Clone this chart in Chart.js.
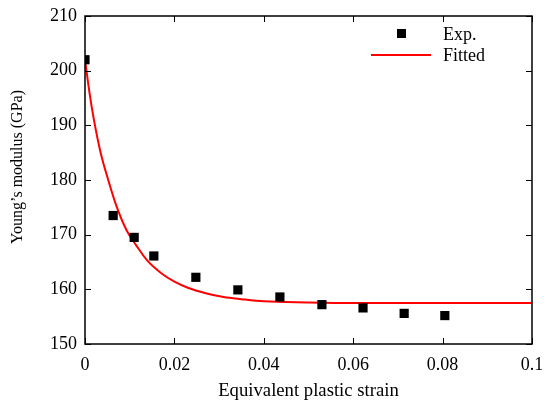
<!DOCTYPE html>
<html>
<head>
<meta charset="utf-8">
<script src="https://cdn.jsdelivr.net/npm/chart.js@4/dist/chart.umd.min.js"></script>
<style>
  html, body { margin: 0; padding: 0; background: #fff; }
  #wrap { width: 544px; height: 405px; }
</style>
</head>
<body>
<div id="wrap"><canvas id="chart" width="544" height="405"></canvas></div>
<script>
// --- Data ---
const expStrain  = [0, 0.0063, 0.0110, 0.0154, 0.0248, 0.0342, 0.0436, 0.0530, 0.0622, 0.0714, 0.0805];
const expModulus = [202.0, 173.5, 169.5, 166.1, 162.2, 159.9, 158.6, 157.2, 156.6, 155.6, 155.2];

const fitStrain  = [0, 0.001, 0.002, 0.0035, 0.0052, 0.007, 0.0093, 0.0115, 0.014, 0.017, 0.02,
                    0.023, 0.027, 0.031, 0.035, 0.04, 0.05, 0.06, 0.08, 0.1];
const fitModulus = [202, 196, 191, 185, 180, 175.3, 170.8, 168, 165.2, 163, 161.4,
                    160.3, 159.3, 158.6, 158.2, 157.8, 157.6, 157.5, 157.5, 157.5];

const xTicks = [0, 0.02, 0.04, 0.06, 0.08, 0.1];
const yTicks = [150, 160, 170, 180, 190, 200, 210];

const yTitle = 'Young\u2019s modulus (GPa)';

const FONT = "'Liberation Serif', 'Times New Roman', serif";

// --- Frame, inward ticks, y title and legend ---
const framePlugin = {
    id: 'frame',
    afterDraw(chart) {
        const ctx = chart.ctx;
        const a = chart.chartArea;
        const xs = chart.scales.x, ys = chart.scales.y;
        ctx.save();
        ctx.strokeStyle = '#000';
        ctx.lineWidth = 1.5;
        ctx.strokeRect(a.left, a.top, a.right - a.left, a.bottom - a.top);

        ctx.lineWidth = 1;
        ctx.beginPath();
        xTicks.forEach(v => {
            const px = Math.round(xs.getPixelForValue(v)) + 0.5;
            ctx.moveTo(px, a.bottom); ctx.lineTo(px, a.bottom - 6);
            ctx.moveTo(px, a.top); ctx.lineTo(px, a.top + 6);
        });
        yTicks.forEach(v => {
            const py = Math.round(ys.getPixelForValue(v)) + 0.5;
            ctx.moveTo(a.left, py); ctx.lineTo(a.left + 6, py);
            ctx.moveTo(a.right, py); ctx.lineTo(a.right - 6, py);
        });
        ctx.stroke();

        // y axis title (sits a little above the plot centre in the original)
        ctx.fillStyle = '#000';
        ctx.font = '16px ' + FONT;
        ctx.textAlign = 'center';
        ctx.textBaseline = 'middle';
        ctx.save();
        ctx.translate(18, 167);
        ctx.rotate(-Math.PI / 2);
        ctx.fillText(yTitle, 0, 0);
        ctx.restore();

        // legend
        const ds = chart.data.datasets;
        ctx.font = '18px ' + FONT;
        ctx.textAlign = 'left';
        ctx.fillRect(397, 29, 9, 9);
        ctx.fillText(ds[0].label, 443, 35);
        ctx.strokeStyle = ds[1].borderColor;
        ctx.lineWidth = 2;
        ctx.beginPath();
        ctx.moveTo(371, 55); ctx.lineTo(431, 55);
        ctx.stroke();
        ctx.fillText(ds[1].label, 443, 56);
        ctx.restore();
    }
};

const expPoints = expStrain.map((x, i) => ({ x: x, y: expModulus[i] }));
const fitPoints = fitStrain.map((x, i) => ({ x: x, y: fitModulus[i] }));

new Chart(document.getElementById('chart').getContext('2d'), {
    type: 'scatter',
    data: {
        datasets: [
            {
                label: 'Exp.',
                data: expPoints,
                pointStyle: 'rect',
                pointRadius: 6.5,
                backgroundColor: '#000',
                borderColor: '#000',
                borderWidth: 0,
                order: 1
            },
            {
                label: 'Fitted',
                data: fitPoints,
                showLine: true,
                pointRadius: 0,
                borderColor: '#ff0000',
                borderWidth: 2,
                cubicInterpolationMode: 'monotone',
                order: 2
            }
        ]
    },
    options: {
        responsive: false,
        animation: false,
        layout: { padding: { left: 0, right: 12, top: 16, bottom: 0 } },
        plugins: {
            legend: { display: false },
            tooltip: { enabled: false }
        },
        scales: {
            x: {
                type: 'linear',
                min: 0,
                max: 0.1,
                afterBuildTicks: s => { s.ticks = xTicks.map(v => ({ value: v })); },
                afterFit: s => { s.height = 61; s.paddingLeft = 0; s.paddingRight = 0; },
                grid: { display: false, drawTicks: false },
                border: { display: false },
                ticks: {
                    color: '#000',
                    padding: 10,
                    font: { family: FONT, size: 18 },
                    callback: v => String(v)
                },
                title: {
                    display: true,
                    text: 'Equivalent plastic strain',
                    color: '#000',
                    font: { family: FONT, size: 18.7 },
                    padding: { top: 4, bottom: 3 }
                }
            },
            y: {
                min: 150,
                max: 210,
                afterBuildTicks: s => { s.ticks = yTicks.map(v => ({ value: v })); },
                afterFit: s => { s.width = 85; s.paddingTop = 0; s.paddingBottom = 0; },
                grid: { display: false, drawTicks: false },
                border: { display: false },
                ticks: {
                    color: '#000',
                    padding: 8,
                    font: { family: FONT, size: 18 }
                },
                title: { display: false }
            }
        }
    },
    plugins: [framePlugin]
});
</script>
</body>
</html>
